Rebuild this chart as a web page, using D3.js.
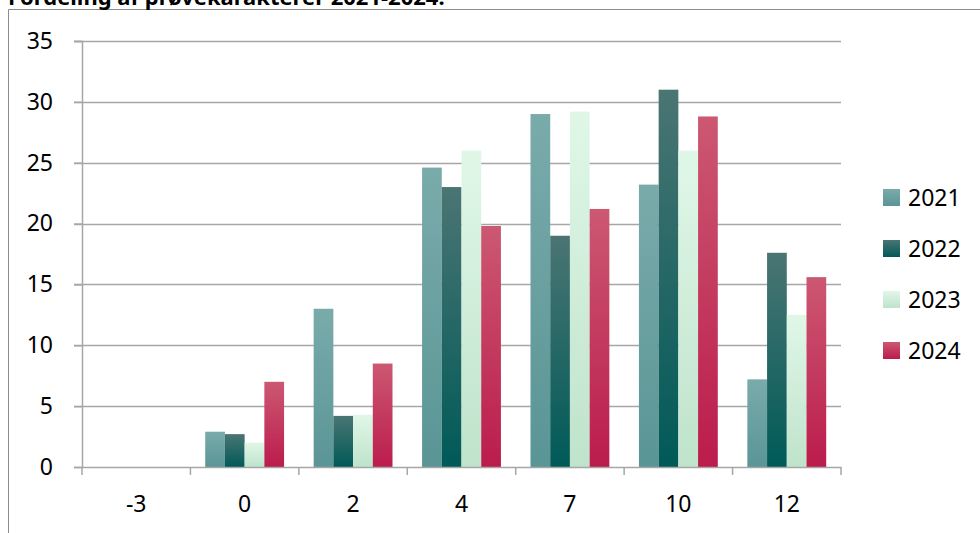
<!DOCTYPE html>
<html>
<head>
<meta charset="utf-8">
<script src="https://cdn.jsdelivr.net/npm/d3@7"></script>
<style>
  body { margin: 0; background: #fff; }
  svg { display: block; font-family: "Noto Sans", "Open Sans", sans-serif; }
</style>
</head>
<body>
<div id="chart"></div>
<script>
// data
const grades = ['-3', '0', '2', '4', '7', '10', '12'];
const years = ['2021', '2022', '2023', '2024'];
const v2021 = [0, 2.9, 13.0, 24.6, 29.0, 23.2, 7.2];
const v2022 = [0, 2.7, 4.2, 23.0, 19.0, 31.0, 17.6];
const v2023 = [0, 2.0, 4.3, 26.0, 29.2, 26.0, 12.5];
const v2024 = [0, 7.0, 8.5, 19.8, 21.2, 28.8, 15.6];
const yTicks = [0, 5, 10, 15, 20, 25, 30, 35];
const title = 'Fordeling af prøvekarakterer 2021-2024:';

const seriesValues = [v2021, v2022, v2023, v2024];
const rows = grades.map((g, i) => {
    const r = { grade: g };
    years.forEach((y, j) => { r[y] = seriesValues[j][i]; });
    return r;
});

// gradient colours per series (top, bottom)
const colors = {
    '2021': ['#7aabab', '#5a9595'],
    '2022': ['#4a7573', '#005a58'],
    '2023': ['#e0f7e8', '#bfe3cb'],
    '2024': ['#cc5872', '#bb1c4c']
};

const width = 980, height = 533;
const margin = { top: 41, right: 139, bottom: 66, left: 82 };
const labelSize = 23;

const svg = d3.select('#chart').append('svg')
    .attr('width', width)
    .attr('height', height);

const defs = svg.append('defs');
years.forEach(y => {
    const grad = defs.append('linearGradient')
        .attr('id', 'g' + y)
        .attr('x1', 0).attr('y1', 0).attr('x2', 0).attr('y2', 1);
    grad.append('stop').attr('offset', '0%').attr('stop-color', colors[y][0]);
    grad.append('stop').attr('offset', '100%').attr('stop-color', colors[y][1]);
});

// outer frame (chart area border, partly clipped)
svg.append('path')
    .attr('d', `M8.5,${height} V9.5 H${width}`)
    .attr('fill', 'none')
    .attr('stroke', '#8c8c8c')
    .attr('stroke-width', 1);

// title (mostly cut off at the top, as in the original)
svg.append('text')
    .attr('x', 8)
    .attr('y', 5)
    .attr('font-size', 22)
    .attr('font-weight', 'bold')
    .attr('fill', '#000')
    .text(title);

const x0 = d3.scaleBand()
    .domain(grades)
    .range([margin.left, width - margin.right])
    .padding(0);

// Excel-like gap width 150%: 4 bars + 1.5 bar gap per category
const barW = x0.bandwidth() / 5.5;
const x1 = d3.scaleBand()
    .domain(years)
    .range([barW * 0.75, barW * 4.75])
    .padding(0);

const y = d3.scaleLinear()
    .domain([0, 35])
    .range([height - margin.bottom, margin.top]);

// gridlines
svg.append('g')
    .selectAll('line')
    .data(yTicks.slice(1))
    .enter().append('line')
    .attr('x1', margin.left - 8)
    .attr('x2', width - margin.right)
    .attr('y1', d => Math.round(y(d)) + 0.5)
    .attr('y2', d => Math.round(y(d)) + 0.5)
    .style('stroke', '#a6a6a6')
    .style('stroke-width', 1.5);

// bars
const groups = svg.append('g')
    .selectAll('g')
    .data(rows)
    .enter().append('g')
    .attr('transform', d => `translate(${x0(d.grade)},0)`);

groups.selectAll('rect')
    .data(d => years.map(k => ({ key: k, value: d[k] })))
    .enter().append('rect')
    .attr('x', d => x1(d.key))
    .attr('width', x1.bandwidth())
    .attr('y', d => y(d.value))
    .attr('height', d => y(0) - y(d.value))
    .attr('fill', d => `url(#g${d.key})`);

// y axis
const yAxis = svg.append('g')
    .attr('transform', `translate(${margin.left},0)`)
    .call(d3.axisLeft(y).tickValues(yTicks).tickSize(8).tickPadding(21));
yAxis.selectAll('text').attr('font-size', labelSize).attr('fill', '#000').attr('font-family', '"Noto Sans", sans-serif');

// x axis
const xAxis = svg.append('g')
    .attr('transform', `translate(0,${height - margin.bottom})`)
    .call(d3.axisBottom(x0).tickSize(0).tickPadding(29));
xAxis.selectAll('text').attr('font-size', labelSize).attr('fill', '#000').attr('font-family', '"Noto Sans", sans-serif');

// category boundary ticks
xAxis.selectAll('.sep')
    .data(d3.range(grades.length + 1))
    .enter().append('line')
    .attr('class', 'sep')
    .attr('x1', i => margin.left + i * x0.bandwidth())
    .attr('x2', i => margin.left + i * x0.bandwidth())
    .attr('y1', 0)
    .attr('y2', 8)
    .style('stroke', '#a6a6a6')
    .style('stroke-width', 1.5);

svg.selectAll('.domain, .tick line')
    .style('stroke', '#a6a6a6')
    .style('stroke-width', 1.5);

// legend
const legend = svg.append('g')
    .attr('transform', 'translate(883,189)')
    .selectAll('g')
    .data(years)
    .enter().append('g')
    .attr('transform', (d, i) => `translate(0,${i * 51})`);

legend.append('rect')
    .attr('width', 17)
    .attr('height', 17)
    .attr('fill', d => `url(#g${d})`);

legend.append('text')
    .attr('x', 25)
    .attr('y', 8.5)
    .attr('dy', '0.36em')
    .attr('font-size', labelSize)
    .attr('fill', '#000')
    .text(d => d);
</script>
</body>
</html>
